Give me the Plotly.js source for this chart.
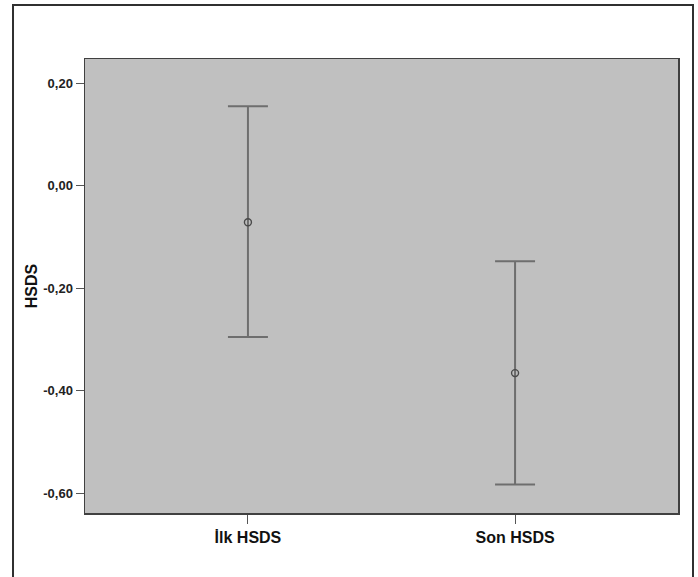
<!DOCTYPE html>
<html>
<head>
<meta charset="utf-8">
<script src="https://cdn.plot.ly/plotly-3.0.1.min.js"></script>
<style>
html,body{margin:0;padding:0;background:#fff;}
#chart{width:698px;height:577px;}
</style>
</head>
<body>
<div id="chart"></div>
<script>
var categories = ["İlk HSDS", "Son HSDS"];
var means = [-0.0715, -0.366];
var upper = [0.1546, -0.1475];
var lower = [-0.2957, -0.5835];
var yTickVals = [0.2, 0, -0.2, -0.4, -0.6];
var yTickText = ["0,20", "0,00", "-0,20", "-0,40", "-0,60"];

var plus = means.map(function(m, i){ return upper[i] - m; });
var minus = means.map(function(m, i){ return m - lower[i]; });

var trace = {
  x: [0, 1],
  y: means,
  type: 'scatter',
  mode: 'markers',
  marker: {symbol: 'circle-open', size: 7, color: '#4a4a4a', line: {width: 1.4, color: '#4a4a4a'}},
  error_y: {type: 'data', symmetric: false, array: plus, arrayminus: minus,
            color: '#6e6e6e', thickness: 2, width: 20},
  hoverinfo: 'skip'
};

var layout = {
  width: 698, height: 577,
  margin: {l: 85, r: 20, t: 59, b: 64},
  paper_bgcolor: '#ffffff',
  plot_bgcolor: '#c0c0c0',
  showlegend: false,
  font: {family: 'Liberation Sans, Arial, sans-serif'},
  xaxis: {
    range: [-0.61, 1.61],
    tickvals: [0, 1], ticktext: categories,
    ticks: 'outside', ticklen: 9, tickwidth: 1, tickcolor: '#555',
    showline: true, linecolor: '#404040', linewidth: 1.5, mirror: true,
    showgrid: false, zeroline: false,
    tickfont: {size: 16, color: '#111', family: 'Liberation Sans, Arial, sans-serif', weight: 'bold'}
  },
  yaxis: {
    range: [-0.639, 0.247],
    tickvals: yTickVals, ticktext: yTickText,
    ticks: 'outside', ticklen: 8, tickwidth: 1, tickcolor: '#555',
    showline: true, linecolor: '#404040', linewidth: 1.5, mirror: true,
    showgrid: false, zeroline: false,
    tickfont: {size: 13, color: '#222', family: 'Liberation Sans, Arial, sans-serif', weight: 'bold'},
    title: {text: 'HSDS', standoff: 1, font: {size: 16, color: '#111', family: 'Liberation Sans, Arial, sans-serif', weight: 'bold'}}
  },
  shapes: [{
    type: 'path', xref: 'paper', yref: 'paper',
    path: 'M -0.1214,-0.2 L -0.1214,1.119 L 1.0253,1.119 L 1.0253,-0.2',
    line: {color: '#303030', width: 2}
  }]
};

Plotly.newPlot('chart', [trace], layout, {displayModeBar: false, staticPlot: true});
</script>
</body>
</html>
